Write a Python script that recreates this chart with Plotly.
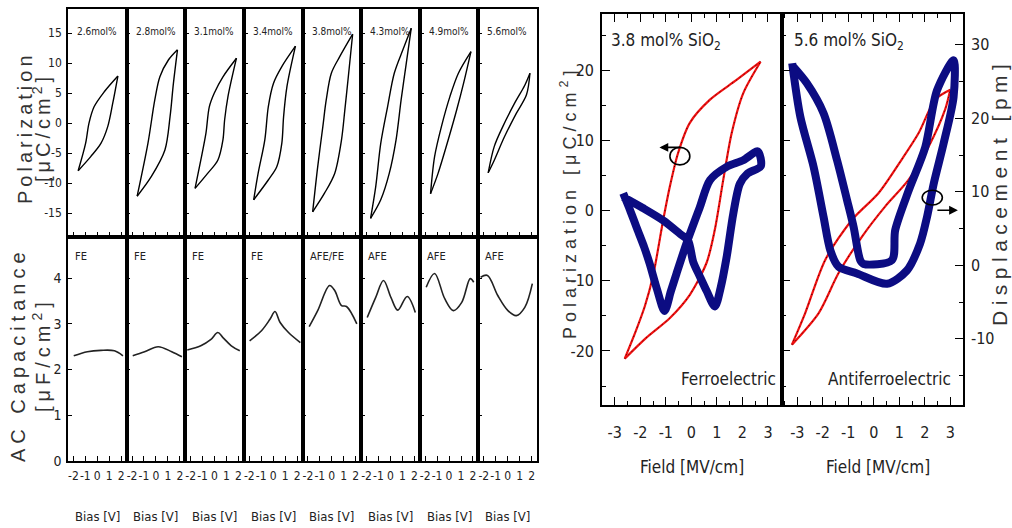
import plotly.graph_objects as go

# ---------------- data: left figure (8 compositions) ----------------
CONC_LABELS = ["2.6mol%", "2.8mol%", "3.1mol%", "3.4mol%", "3.8mol%", "4.3mol%", "4.9mol%", "5.6mol%"]
PHASE_LABELS = ["FE", "FE", "FE", "FE", "AFE/FE", "AFE", "AFE", "AFE"]

# P-V loops: upper branch and lower branch (bias [V], polarization [uC/cm2])
PV_UP_BIAS = [
    [-1.6, -0.98, -0.7, -0.27, 0.58, 1.72],
    [-1.57, -0.67, -0.1, 0.33, 1.04, 1.8],
    [-1.63, -1.15, -0.72, -0.44, -0.02, 0.7, 1.83],
    [-1.63, -1.26, -0.7, -0.41, 0.02, 0.72, 1.86],
    [-1.6, -1.18, -0.75, -0.47, -0.04, 0.66, 1.74],
    [-1.66, -1.23, -0.81, -0.24, 0.32, 1.04, 1.74],
    [-1.55, -1.21, -0.64, 0.07, 0.78, 1.83],
    [-1.63, -1.12, -0.41, 0.58, 1.43, 1.86],
]
PV_UP_POL = [
    [-7.95, -3.4, -0.05, 2.7, 5.2, 7.83],
    [-12.2, -3.4, 3.8, 7.7, 10.5, 12.2],
    [-10.9, -6.2, -1.7, 2.7, 5.0, 7.7, 10.8],
    [-12.8, -8.4, -2.8, 2.7, 6.6, 9.4, 12.8],
    [-14.8, -7.3, -0.6, 3.8, 8.3, 11.05, 14.8],
    [-15.9, -10.6, -3.4, 2.7, 8.3, 12.2, 15.8],
    [-11.8, -5.6, -0.6, 4.4, 8.3, 11.9],
    [-8.3, -3.9, -0.6, 3.3, 6.3, 8.3],
]
PV_LO_BIAS = [
    [-1.6, -0.55, 0.3, 0.87, 1.29, 1.72],
    [-1.57, -0.38, 0.75, 1.18, 1.46, 1.8],
    [-1.63, -0.58, 0.27, 0.7, 0.84, 1.12, 1.83],
    [-1.63, -0.41, 0.3, 0.72, 0.87, 1.15, 1.86],
    [-1.6, -0.61, 0.24, 0.81, 1.09, 1.38, 1.74],
    [-1.66, -0.81, -0.1, 0.47, 0.89, 1.32, 1.74],
    [-1.55, -0.92, -0.07, 0.64, 1.21, 1.83],
    [-1.63, -1.12, -0.27, 0.72, 1.57, 1.86],
]
PV_LO_POL = [
    [-7.95, -5.6, -3.4, -0.6, 3.3, 7.83],
    [-12.2, -8.9, -4.5, 1.05, 6.6, 12.2],
    [-10.9, -8.4, -6.2, -2.8, 0.5, 4.4, 10.8],
    [-12.8, -9.5, -7.3, -3.4, 1.05, 6.05, 12.8],
    [-14.8, -11.7, -8.4, -2.8, 2.2, 7.7, 14.8],
    [-15.9, -12.8, -8.4, -2.8, 3.8, 9.9, 15.8],
    [-11.8, -8.4, -2.8, 2.2, 6.6, 11.9],
    [-8.3, -6.2, -2.3, 1.6, 4.7, 8.3],
]

# AC capacitance vs bias (bias [V], capacitance [uF/cm2])
CV_BIAS = [
    [-1.97, -0.83, 0.3, 1.43, 2.14],
    [-1.94, -0.95, 0.19, 1.32, 2.17],
    [-2.28, -1.15, -0.3, 0.27, 0.7, 1.4, 2.11],
    [-1.97, -0.98, -0.27, 0.15, 0.58, 1.28, 2.27],
    [-1.89, -1.18, -0.19, 0.24, 0.81, 1.23, 2.09],
    [-1.94, -1.23, -0.58, 0.04, 0.61, 1.4, 2.08],
    [-1.91, -1.21, -0.36, 0.36, 1.06, 1.77, 2.06],
    [-2.26, -1.69, -0.83, 0.02, 0.72, 1.43, 2.06],
]
CV_CAP = [
    [2.3, 2.39, 2.42, 2.41, 2.3],
    [2.3, 2.39, 2.5, 2.39, 2.28],
    [2.43, 2.52, 2.66, 2.81, 2.7, 2.52, 2.41],
    [2.63, 2.85, 3.1, 3.27, 3.03, 2.81, 2.59],
    [2.94, 3.29, 3.84, 3.73, 3.4, 3.38, 3.0],
    [3.14, 3.58, 3.95, 3.58, 3.3, 3.6, 3.25],
    [3.8, 4.1, 3.55, 3.29, 3.47, 3.99, 3.91],
    [4.02, 4.06, 3.62, 3.29, 3.18, 3.36, 3.88],
]
BIAS_TICKS = [-2, -1, 0, 1, 2]
BIAS_TICK_TEXT = ["-2", "-1", "0", "1", "2"]

# ---------------- data: right figure ----------------
FE_RED_UP_FIELD = [2.71, 1.77, 0.73, -0.06, -0.52, -0.84, -1.1, -1.5, -1.82, -2.2, -2.61]
FE_RED_UP_POL = [21.2, 18.6, 15.8, 12.5, 8.2, 3.46, -1.28, -9.3, -13.6, -17.4, -21.1]
FE_RED_LO_FIELD = [-2.61, -1.76, -0.84, -0.06, 0.6, 0.92, 1.25, 1.58, 2.03, 2.71]
FE_RED_LO_POL = [-21.1, -18.1, -15.3, -12.0, -7.4, -2.7, 4.4, 11.05, 16.7, 21.2]
FE_BLUE_FIELD = [-2.67, -2.4, -2.15, -1.85, -1.63, -1.35, -1.05, -0.8, -0.58, -0.19, 0.33, 0.73,
                 1.38, 2.03, 2.6, 2.72, 2.2, 1.9, 1.64, 1.38, 1.15, 0.92, 0.6, 0.33, 0.07, -0.13,
                 -0.45, -1.1, -1.9, -2.67]
FE_BLUE_DISP = [9.8, 7.5, 5.2, 2.5, 0.2, -3.2, -6.2, -3.5, -1.1, 3.0, 7.9, 11.6,
                13.4, 14.3, 15.5, 13.5, 12.5, 11.1, 7.0, 1.1, -3.0, -5.6, -3.5, -1.5, 0.5, 3.4,
                4.3, 6.1, 7.8, 9.3]

AFE_RED_UP_FIELD = [3.0, 2.41, 1.76, 1.1, 0.19, -0.85, -1.9, -2.69, -3.21]
AFE_RED_UP_POL = [17.2, 15.8, 11.05, 7.3, 2.5, -1.3, -7.0, -14.6, -19.1]
AFE_RED_LO_FIELD = [-3.21, -2.16, -1.38, -0.46, 0.45, 1.37, 2.15, 2.8, 3.0]
AFE_RED_LO_POL = [-19.1, -14.6, -8.9, -3.7, 0.6, 4.4, 9.1, 14.4, 17.2]
AFE_BLUE_FIELD = [-3.2, -2.88, -2.36, -1.97, -1.7, -1.38, -0.66, 0.52, 1.3, 1.82, 2.09, 2.35,
                  2.74, 3.13, 3.13, 2.48, 2.02, 1.37, 0.84, 0.71, -0.4, -0.53, -0.79, -1.05,
                  -1.44, -1.97, -2.63, -3.15]
AFE_BLUE_DISP = [27.5, 20.2, 13.4, 6.6, 2.0, -0.2, -1.1, -2.5, -0.7, 3.0, 6.6, 11.1,
                 16.6, 22.9, 27.9, 23.8, 16.1, 10.2, 4.8, 0.7, 0.2, 0.7, 5.2, 8.9,
                 14.3, 20.7, 24.8, 27.0]
FIELD_TICKS = [-3, -2, -1, 0, 1, 2, 3]
POL_TICKS = [-20, -10, 0, 10, 20]
DISP_TICKS = [-10, 0, 10, 20, 30]

# ---------------- layout helpers ----------------
W, H = 1012, 528
NARROW = "DejaVu Sans Condensed, Liberation Sans Narrow, Arial Narrow, Liberation Sans, sans-serif"
WIDE = "Liberation Sans, Arial, sans-serif"
BLUE = "#0c0c82"
RED = "#f01010"
TXT = "#222"


def xd(p0, p1):
    return [p0 / W, p1 / W]


def yd(p0, p1):
    return [1 - p1 / H, 1 - p0 / H]


def px(x):
    return x / W


def py(y):
    return 1 - y / H


def labels(vals):
    return [str(v) for v in vals]


fig = go.Figure()
lay = {}
annotations = []
shapes = []

L0, R0 = 68, 537
colw = (R0 - L0) / 8
TOP = (9, 237)
BOT = (237, 461)

line_common = dict(showline=True, linecolor="black", linewidth=1.6, mirror=True,
                   showgrid=False, zeroline=False, ticks="inside", tickcolor="black",
                   tickwidth=1.2, automargin=False)

for i in range(8):
    x0 = L0 + i * colw
    x1 = x0 + colw
    nt = 2 * i + 1
    nb = 2 * i + 2
    # top row: P-V
    lay[f"xaxis{nt}"] = dict(domain=xd(x0, x1), range=[-2.45, 2.45], anchor=f"y{nt}",
                             dtick=1, tick0=0, ticklen=5, showticklabels=False, **line_common)
    lay[f"yaxis{nt}"] = dict(domain=yd(*TOP), range=[-19, 19], anchor=f"x{nt}",
                             tickmode="array", tickvals=[-15, -10, -5, 0, 5, 10, 15],
                             ticktext=labels([-15, -10, -5, 0, 5, 10, 15]),
                             ticklen=4, showticklabels=(i == 0), ticklabelstandoff=2,
                             tickfont=dict(family=NARROW, size=12, color=TXT), **line_common)
    # bottom row: C-V
    lay[f"xaxis{nb}"] = dict(domain=xd(x0, x1), range=[-2.45, 2.45], anchor=f"y{nb}",
                             tickmode="array", tickvals=BIAS_TICKS, ticktext=BIAS_TICK_TEXT,
                             ticklen=5, tickangle=0, ticklabelstandoff=3,
                             tickfont=dict(family=NARROW, size=12, color=TXT), **line_common)
    lay[f"yaxis{nb}"] = dict(domain=yd(*BOT), range=[0, 4.9], anchor=f"x{nb}",
                             dtick=1, tick0=0, ticklen=4, showticklabels=(i == 0),
                             ticklabelstandoff=2,
                             tickfont=dict(family=NARROW, size=14, color=TXT), **line_common)

    fig.add_trace(go.Scatter(x=PV_UP_BIAS[i], y=PV_UP_POL[i], mode="lines",
                             line=dict(color="black", width=1.4, shape="spline", smoothing=0.9),
                             xaxis=f"x{nt}", yaxis=f"y{nt}", showlegend=False, hoverinfo="skip"))
    fig.add_trace(go.Scatter(x=PV_LO_BIAS[i], y=PV_LO_POL[i], mode="lines",
                             line=dict(color="black", width=1.4, shape="spline", smoothing=0.9),
                             xaxis=f"x{nt}", yaxis=f"y{nt}", showlegend=False, hoverinfo="skip"))
    fig.add_trace(go.Scatter(x=CV_BIAS[i], y=CV_CAP[i], mode="lines",
                             line=dict(color="#222", width=1.6, shape="spline", smoothing=1.0),
                             xaxis=f"x{nb}", yaxis=f"y{nb}", showlegend=False, hoverinfo="skip"))

    annotations.append(dict(text=CONC_LABELS[i], x=px(x0 + 7), y=py(31),
                            xanchor="left", font=dict(family=NARROW, size=10, color=TXT)))
    annotations.append(dict(text=PHASE_LABELS[i], x=px(x0 + 5), y=py(256),
                            xanchor="left", font=dict(family=NARROW, size=11, color=TXT)))
    annotations.append(dict(text="Bias [V]", x=px((x0 + x1) / 2), y=py(516),
                            font=dict(family=NARROW, size=13, color=TXT)))


def sp(text, s):
    return f'<span style="letter-spacing:{s}px">{text}</span>'


annotations += [
    dict(text=sp("Polarization", 4), x=px(25), y=py(128), textangle=-90,
         font=dict(family=WIDE, size=20, color="#333")),
    dict(text=sp("[μC/cm<sup>2</sup>]", 4), x=px(41), y=py(128), textangle=-90,
         font=dict(family=WIDE, size=20, color="#333")),
    dict(text=sp("AC Capacitance", 5), x=px(18), y=py(355), textangle=-90,
         font=dict(family=WIDE, size=20, color="#333")),
    dict(text=sp("[μF/cm<sup>2</sup>]", 5), x=px(41), y=py(355), textangle=-90,
         font=dict(family=WIDE, size=20, color="#333")),
]

# ---------------- right figure ----------------
RT = (14, 405)
rstyle = dict(showline=True, linecolor="black", linewidth=1.6, showgrid=False, zeroline=False,
              ticks="inside", tickcolor="black", tickwidth=1.2, automargin=False,
              tickfont=dict(family=NARROW, size=16, color=TXT))
xminor = dict(dtick=0.5, tick0=0, ticks="inside", ticklen=4, tickcolor="black")
yminor = dict(dtick=5, tick0=0, ticks="inside", ticklen=4, tickcolor="black")

lay["xaxis17"] = dict(domain=xd(602, 782), range=[-3.5, 3.55], anchor="y17",
                      tickmode="array", tickvals=FIELD_TICKS, ticktext=labels(FIELD_TICKS),
                      ticklen=8, mirror="ticks", minor=xminor, ticklabelstandoff=12, **rstyle)
lay["yaxis17"] = dict(domain=yd(*RT), range=[-27.7, 28], anchor="x17",
                      tickmode="array", tickvals=POL_TICKS, ticktext=labels(POL_TICKS),
                      ticklen=8, mirror=True, minor=yminor, ticklabelstandoff=3, **rstyle)
lay["yaxis18"] = dict(overlaying="y17", anchor="x17", range=[-19, 34.2], visible=False,
                      automargin=False)
lay["xaxis18"] = dict(domain=xd(782, 963), range=[-3.6, 3.5], anchor="y19",
                      tickmode="array", tickvals=FIELD_TICKS, ticktext=labels(FIELD_TICKS),
                      ticklen=8, mirror="ticks", minor=xminor, ticklabelstandoff=12, **rstyle)
lay["yaxis19"] = dict(domain=yd(*RT), range=[-27.7, 28], anchor="x18",
                      tickvals=POL_TICKS, ticklen=8, showticklabels=False, minor=yminor, **rstyle)
lay["yaxis20"] = dict(overlaying="y19", anchor="x18", side="right", range=[-19, 34.2],
                      tickmode="array", tickvals=DISP_TICKS, ticktext=labels(DISP_TICKS),
                      ticklen=8, minor=yminor, ticklabelstandoff=3, **rstyle)


def add_line(xs, ys, xa, ya, color, width, dash=None):
    ln = dict(color=color, width=width, shape="spline", smoothing=0.8)
    if dash:
        ln["dash"] = dash
    fig.add_trace(go.Scatter(x=xs, y=ys, mode="lines", line=ln, xaxis=xa, yaxis=ya,
                             showlegend=False, hoverinfo="skip"))


# Ferroelectric panel
add_line(FE_BLUE_FIELD, FE_BLUE_DISP, "x17", "y18", BLUE, 8)
for xs, ys in [(FE_RED_UP_FIELD, FE_RED_UP_POL), (FE_RED_LO_FIELD, FE_RED_LO_POL)]:
    add_line(xs, ys, "x17", "y17", RED, 2.2)
    add_line(xs, ys, "x17", "y17", "black", 0.8, dash="1px,4px")
# Antiferroelectric panel
add_line(AFE_BLUE_FIELD, AFE_BLUE_DISP, "x18", "y20", BLUE, 8)
for xs, ys in [(AFE_RED_UP_FIELD, AFE_RED_UP_POL), (AFE_RED_LO_FIELD, AFE_RED_LO_POL)]:
    add_line(xs, ys, "x18", "y19", RED, 2.2)
    add_line(xs, ys, "x18", "y19", "black", 0.8, dash="1px,4px")

annotations += [
    dict(text="3.8 mol% SiO<sub>2</sub>", x=px(609), y=py(28), xanchor="left", yanchor="top",
         font=dict(family=NARROW, size=17, color=TXT)),
    dict(text="5.6 mol% SiO<sub>2</sub>", x=px(792), y=py(28), xanchor="left", yanchor="top",
         font=dict(family=NARROW, size=17, color=TXT)),
    dict(text="Ferroelectric", x=px(778), y=py(379), xanchor="right",
         font=dict(family=NARROW, size=17, color=TXT)),
    dict(text="Antiferroelectric", x=px(953), y=py(379), xanchor="right",
         font=dict(family=NARROW, size=17, color=TXT)),
    dict(text="Field [MV/cm]", x=px(692), y=py(467),
         font=dict(family=NARROW, size=17, color=TXT)),
    dict(text="Field [MV/cm]", x=px(878), y=py(467),
         font=dict(family=NARROW, size=17, color=TXT)),
    dict(text=sp("Polarization [μC/cm<sup>2</sup>]", 5), x=px(568), y=py(203), textangle=-90,
         font=dict(family=WIDE, size=18, color="#333")),
    dict(text=sp("Displacement [pm]", 5.5), x=px(1000), y=py(193), textangle=-90,
         font=dict(family=WIDE, size=21, color="#333")),
]
for a in annotations:
    a.setdefault("xref", "paper")
    a.setdefault("yref", "paper")
    a.setdefault("showarrow", False)
    a.setdefault("xanchor", "center")
    a.setdefault("yanchor", "middle")

# circle + arrow markers (axis indicators)
annotations.append(dict(x=-1.25, y=9.0, xref="x17", yref="y17", ax=22, ay=0, axref="pixel",
                        ayref="pixel", text="", showarrow=True, arrowhead=2, arrowsize=1.1,
                        arrowwidth=1.6, arrowcolor="black"))
shapes.append(dict(type="circle", xref="x17", yref="y17", x0=-0.84, x1=-0.06, y0=6.5, y1=9.0,
                   line=dict(color="black", width=1.6)))
annotations.append(dict(x=3.3, y=7.5, xref="x18", yref="y20", ax=-22, ay=0, axref="pixel",
                        ayref="pixel", text="", showarrow=True, arrowhead=2, arrowsize=1.1,
                        arrowwidth=1.6, arrowcolor="black"))
shapes.append(dict(type="circle", xref="x18", yref="y19", x0=1.9, x1=2.69, y0=0.8, y1=2.9,
                   line=dict(color="black", width=1.6)))

lay.update(dict(width=W, height=H, margin=dict(l=0, r=0, t=0, b=0, autoexpand=False),
                paper_bgcolor="white", plot_bgcolor="white",
                showlegend=False, annotations=annotations, shapes=shapes))
fig.update_layout(**lay)
fig.write_html("out.html", config={"displayModeBar": False})

# remove the default page margin so the 1012x528 figure fills the window exactly
with open("out.html", "r", encoding="utf-8") as f:
    page = f.read()
page = page.replace("<head>", "<head><style>html,body{margin:0;padding:0;overflow:hidden;}</style>", 1)
with open("out.html", "w", encoding="utf-8") as f:
    f.write(page)
